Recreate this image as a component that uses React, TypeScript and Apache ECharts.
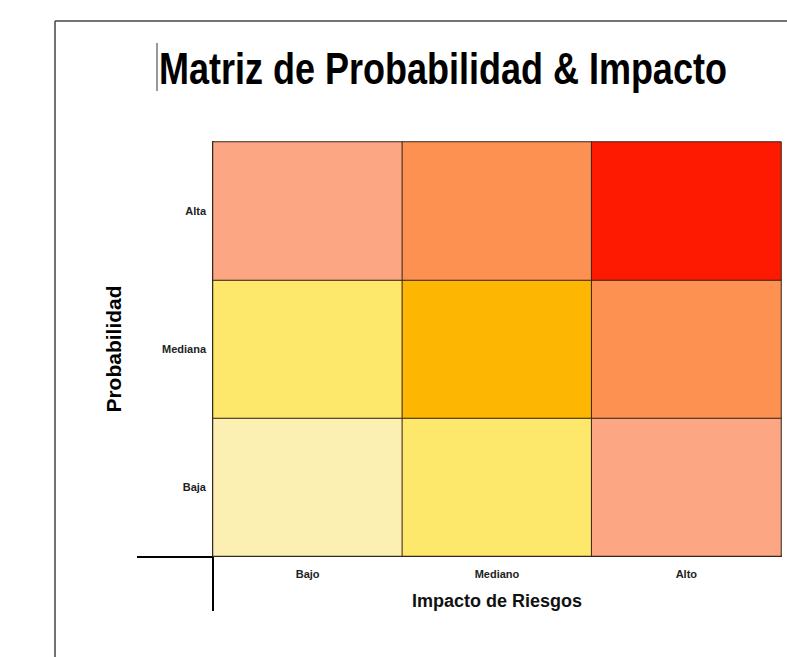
import React, { useEffect, useRef } from "react";
import * as echarts from "echarts";

const chartTitle = "Matriz de Probabilidad & Impacto";
const impactCategories = ["Bajo", "Mediano", "Alto"];
const probabilityCategories = ["Baja", "Mediana", "Alta"];
// risk class of each cell, rows from Baja (bottom) to Alta (top), columns Bajo..Alto
const rowBaja = [1, 2, 3];
const rowMediana = [2, 4, 5];
const rowAlta = [3, 5, 6];
const riskClassColors = ["#FCEFB2", "#FDE86C", "#FCA683", "#FDB602", "#FD9152", "#FE1A00"];

export default function App() {
  const ref = useRef<HTMLDivElement>(null);
  useEffect(() => {
    document.body.style.margin = "0";
    const chart = echarts.init(ref.current!, null, { renderer: "svg" });
    const rows = [rowBaja, rowMediana, rowAlta];
    const data: number[][] = [];
    for (let y = 0; y < 3; y++) {
      for (let x = 0; x < 3; x++) {
        data.push([x, y, rows[y][x]]);
      }
    }
    const sans = "'Liberation Sans', Arial, sans-serif";
    chart.setOption({
      animation: false,
      backgroundColor: "#ffffff",
      visualMap: {
        type: "piecewise",
        show: false,
        dimension: 2,
        pieces: riskClassColors.map((c, i) => ({ value: i + 1, color: c })),
      },
      grid: { left: 213, top: 142, right: 6, bottom: 101 },
      xAxis: {
        type: "category",
        data: impactCategories,
        name: "Impacto de Riesgos",
        nameLocation: "middle",
        nameGap: 36,
        nameTextStyle: {
          fontFamily: sans,
          fontWeight: "bold",
          fontSize: 18,
          color: "#111",
        },
        axisLine: { show: true, lineStyle: { color: "#000", width: 2 } },
        axisTick: { show: false },
        splitLine: { show: false },
        axisLabel: {
          margin: 12,
          fontFamily: sans,
          fontWeight: "bold",
          fontSize: 11,
          color: "#222",
        },
      },
      yAxis: {
        type: "category",
        data: probabilityCategories,
        name: "Probabilidad",
        nameLocation: "middle",
        nameGap: 89,
        nameRotate: 90,
        nameTextStyle: {
          fontFamily: sans,
          fontWeight: "bold",
          fontSize: 21,
          color: "#000",
        },
        axisLine: { show: true, lineStyle: { color: "#000", width: 2 } },
        axisTick: { show: false },
        splitLine: { show: false },
        axisLabel: {
          margin: 7,
          fontFamily: sans,
          fontWeight: "bold",
          fontSize: 11,
          color: "#222",
        },
      },
      series: [
        {
          type: "heatmap",
          data,
          itemStyle: { borderColor: "#3a2418", borderWidth: 1 },
          label: { show: false },
          emphasis: { disabled: true },
        },
      ],
      graphic: [
        {
          type: "text",
          x: 159,
          y: 46,
          scaleX: 0.8,
          style: {
            text: chartTitle,
            fontFamily: sans,
            fontWeight: "bold",
            fontSize: 45,
            fill: "#000",
            verticalAlign: "top",
          },
        },
        {
          type: "line",
          shape: { x1: 55, y1: 21, x2: 787, y2: 21 },
          style: { stroke: "#444", lineWidth: 1.5 },
        },
        {
          type: "line",
          shape: { x1: 55, y1: 21, x2: 55, y2: 657 },
          style: { stroke: "#444", lineWidth: 1.5 },
        },
        {
          type: "line",
          shape: { x1: 157, y1: 43, x2: 157, y2: 91 },
          style: { stroke: "#333", lineWidth: 1 },
        },
        {
          type: "line",
          shape: { x1: 137, y1: 557, x2: 213, y2: 557 },
          style: { stroke: "#000", lineWidth: 2 },
        },
        {
          type: "line",
          shape: { x1: 213, y1: 556, x2: 213, y2: 611 },
          style: { stroke: "#000", lineWidth: 2 },
        },
      ],
    });
    return () => chart.dispose();
  }, []);
  return <div ref={ref} style={{ width: 787, height: 657 }} />;
}
